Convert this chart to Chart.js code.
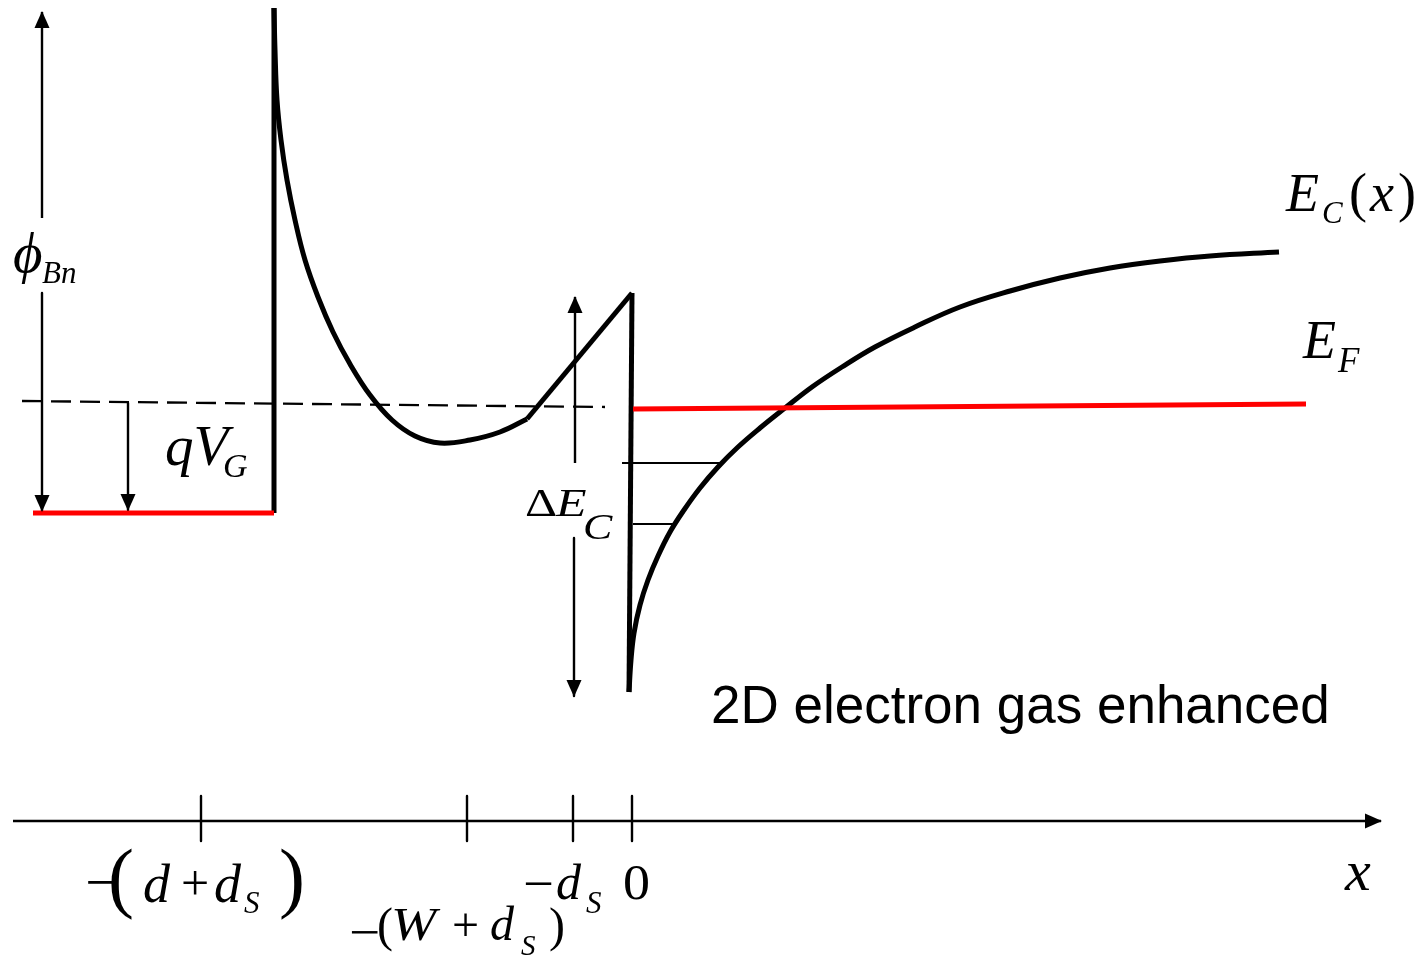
<!DOCTYPE html>
<html><head><meta charset="utf-8">
<script src="https://cdn.jsdelivr.net/npm/chart.js@4/dist/chart.umd.min.js"></script>
<style>html,body{margin:0;padding:0;background:#fff;overflow:hidden}#wrap{width:1427px;height:960px}canvas{display:block}</style>
</head><body><div id="wrap"><canvas id="c" width="1427" height="960"></canvas></div>
<script>
// Position x in nm (0 = heterointerface), energy E in eV relative to the Fermi level
const xRange = [-63.2, 79.5];
const eRange = [-5.56, 4.04];

const metalFermiX = [-59.9, -35.8];
const metalFermiE = [-1.09, -1.09];
const gateWallX = [-35.8, -35.8];
const gateWallE = [-1.09, 3.96];
const barrierX = [-35.8, -35.7, -35.5, -35.1, -34.5, -33.7, -32.7, -31.4, -29.9, -28.2, -26.2, -24.0, -21.7, -19.2, -16.2, -13.2, -10.5];
const barrierE = [3.96, 3.54, 3.04, 2.64, 2.24, 1.84, 1.44, 1.07, 0.72, 0.40, 0.09, -0.16, -0.32, -0.39, -0.36, -0.28, -0.15];
const spacerX = [-10.5, 0.0];
const spacerE = [-0.15, 1.11];
const interfaceX = [0.0, -0.3];
const interfaceE = [1.11, -2.88];
const wellX = [-0.3, -0.1, 0.2, 0.8, 1.6, 2.6, 3.8, 5.2, 6.8, 8.6, 10.6, 12.8, 15.3, 18.0, 21.0, 24.3, 28.3, 32.8, 37.8, 42.8, 47.8, 52.8, 57.8, 64.7];
const wellE = [-2.88, -2.56, -2.29, -2.01, -1.76, -1.52, -1.28, -1.06, -0.84, -0.63, -0.43, -0.24, -0.04, 0.17, 0.37, 0.57, 0.77, 0.97, 1.13, 1.26, 1.36, 1.43, 1.48, 1.52];
const fermiX = [0.1, 67.4];
const fermiE = [-0.05, 0.0];
const refLevelX = [-61.0, -2.7];
const refLevelE = [0.03, -0.03];
const subband1X = [-1.0, 9.0];
const subband1E = [-0.59, -0.59];
const subband2X = [0.1, 4.1];
const subband2E = [-1.20, -1.20];

// dimension arrows (head at last point)
const phiUpX = [-59.0, -59.0],   phiUpE = [1.86, 3.92];
const phiDownX = [-59.0, -59.0], phiDownE = [1.11, -1.07];
const qvgX = [-50.4, -50.4],     qvgE = [0.01, -1.06];
const dEcUpX = [-5.7, -5.7],     dEcUpE = [-0.59, 1.07];
const dEcDownX = [-5.8, -5.8],   dEcDownE = [-1.34, -2.92];

// position axis
const axisX = [-61.9, 74.9];
const axisE = [-4.17, -4.17];
const tickX = [-43.1, -16.5, -5.9, 0.0];
const tickLabels = ['−(d + d_S)', '−(W + d_S)', '−d_S', '0'];
const tickSpanE = [-3.92, -4.37];

const pts = (xs, ys) => xs.map((v, i) => ({x: v, y: ys[i]}));
const RED = '#ff0000', BLK = '#000000';

function line(xs, ys, color, width, extra) {
  return Object.assign({data: pts(xs, ys), borderColor: color, borderWidth: width,
    showLine: true, pointRadius: 0, pointHoverRadius: 0, fill: false, tension: 0,
    borderCapStyle: 'butt', borderJoinStyle: 'round'}, extra || {});
}

const datasets = [
  line(refLevelX, refLevelE, BLK, 2.3, {borderDash: [20, 9]}),
  line(metalFermiX, metalFermiE, RED, 5),
  line(fermiX, fermiE, RED, 5),
  line(gateWallX, gateWallE, BLK, 5),
  line(barrierX, barrierE, BLK, 5, {tension: 0.4}),
  line(spacerX, spacerE, BLK, 5),
  line(interfaceX, interfaceE, BLK, 5),
  line(wellX, wellE, BLK, 5, {tension: 0.4}),
  line(subband1X, subband1E, BLK, 2),
  line(subband2X, subband2E, BLK, 2),
  line(phiUpX, phiUpE, BLK, 2.4, {arrowHead: true}),
  line(phiDownX, phiDownE, BLK, 2.4, {arrowHead: true}),
  line(qvgX, qvgE, BLK, 2.4, {arrowHead: true}),
  line(dEcUpX, dEcUpE, BLK, 2.4, {arrowHead: true}),
  line(dEcDownX, dEcDownE, BLK, 2.4, {arrowHead: true}),
  line(axisX, axisE, BLK, 2.6, {arrowHead: true}),
];
tickX.forEach(t => datasets.push(line([t, t], tickSpanE, BLK, 2.4)));

const SERIF = '"Liberation Serif","DejaVu Serif",serif';
const SANS = '"Liberation Sans",Arial,sans-serif';
// text runs: anchor = left edge / baseline, in data units
const labelRuns = [
  {t: '\u03D5', x: -61.9, y: 1.32, size: 57, it: true},
  {t: 'Bn', x: -59.0, y: 1.21, size: 31, it: true},
  {t: 'qV', x: -46.7, y: -0.61, size: 57, it: true},
  {t: 'G', x: -40.9, y: -0.73, size: 34, it: true},
  {t: 'Δ', x: -10.7, y: -1.12, size: 40, sx: 1.25},
  {t: 'E', x: -7.6, y: -1.12, size: 40, it: true, sx: 1.25},
  {t: 'C', x: -4.9, y: -1.35, size: 36, it: true, sx: 1.22},
  {t: 'E', x: 65.4, y: 1.93, size: 54, it: true},
  {t: 'C', x: 69.0, y: 1.81, size: 31, it: true},
  {t: '(', x: 71.7, y: 1.93, size: 54},
  {t: 'x', x: 73.8, y: 1.93, size: 54, it: true},
  {t: ')', x: 76.6, y: 1.93, size: 54},
  {t: 'E', x: 67.1, y: 0.46, size: 54, it: true},
  {t: 'F', x: 70.6, y: 0.32, size: 35, it: true},
  {t: 'x', x: 71.3, y: -4.86, size: 58, it: true},
  {t: '2D electron gas enhanced', x: 7.9, y: -3.19, size: 53, font: SANS},
  // tick label 0: −(d + d_S)
  {t: '−', x: -54.7, y: -4.97, size: 56, sx: 1.1},
  {t: '(', x: -52.4, y: -4.99, size: 78},
  {t: 'd', x: -48.9, y: -4.98, size: 54, it: true},
  {t: '+', x: -45.1, y: -4.96, size: 50},
  {t: 'd', x: -41.8, y: -4.98, size: 54, it: true},
  {t: 'S', x: -38.8, y: -5.09, size: 31, it: true},
  {t: ')', x: -35.3, y: -4.99, size: 78},
  // tick label 1: −(W + d_S)
  {t: '−', x: -28.3, y: -5.45, size: 50, sx: 1.1},
  {t: '(', x: -25.5, y: -5.37, size: 48},
  {t: 'W', x: -24.1, y: -5.36, size: 46, it: true, sx: 1.18},
  {t: '+', x: -18.0, y: -5.37, size: 48},
  {t: 'd', x: -14.2, y: -5.36, size: 48, it: true},
  {t: 'S', x: -11.1, y: -5.51, size: 29, it: true},
  {t: ')', x: -8.3, y: -5.37, size: 48},
  // tick label 2: −d_S
  {t: '−', x: -10.9, y: -4.97, size: 52, sx: 1.05},
  {t: 'd', x: -7.6, y: -4.95, size: 50, it: true},
  {t: 'S', x: -4.6, y: -5.09, size: 31, it: true},
  // tick label 3: 0
  {t: '0', x: -0.9, y: -4.95, size: 50, sx: 1.08},
];

function drawHead(ctx, tx, ty, fx, fy, len, half, color) {
  const dx = tx - fx, dy = ty - fy, L = Math.hypot(dx, dy) || 1;
  const ux = dx / L, uy = dy / L, bx = tx - ux * len, by = ty - uy * len;
  ctx.beginPath();
  ctx.moveTo(tx + ux * 1, ty + uy * 1);
  ctx.lineTo(bx - uy * half, by + ux * half);
  ctx.lineTo(bx + uy * half, by - ux * half);
  ctx.closePath();
  ctx.fillStyle = color;
  ctx.fill();
}

const overlay = {
  id: 'overlay',
  afterDatasetsDraw(chart) {
    const ctx = chart.ctx, xs = chart.scales.x, ys = chart.scales.y;
    ctx.save();
    chart.data.datasets.forEach((ds, i) => {
      if (!ds.arrowHead) return;
      const p = chart.getDatasetMeta(i).data, n = p.length;
      drawHead(ctx, p[n - 1].x, p[n - 1].y, p[n - 2].x, p[n - 2].y, 16, 7.5, ds.borderColor);
    });
    ctx.fillStyle = '#000';
    ctx.textBaseline = 'alphabetic';
    ctx.textAlign = 'left';
    labelRuns.forEach(r => {
      const px = xs.getPixelForValue(r.x), py = ys.getPixelForValue(r.y);
      ctx.font = (r.it ? 'italic ' : '') + r.size + 'px ' + (r.font || SERIF);
      ctx.save();
      ctx.translate(px, py);
      ctx.scale(r.sx || 1, 1);
      ctx.fillText(r.t, 0, 0);
      ctx.restore();
    });
    ctx.restore();
  }
};

new Chart(document.getElementById('c'), {
  type: 'scatter',
  data: {datasets},
  options: {
    responsive: false, animation: false, devicePixelRatio: 1,
    layout: {padding: 0},
    plugins: {legend: {display: false}, tooltip: {enabled: false}, title: {display: false}},
    events: [],
    scales: {
      x: {type: 'linear', min: xRange[0], max: xRange[1], display: false},
      y: {type: 'linear', min: eRange[0], max: eRange[1], display: false}
    }
  },
  plugins: [overlay]
});
</script></body></html>
